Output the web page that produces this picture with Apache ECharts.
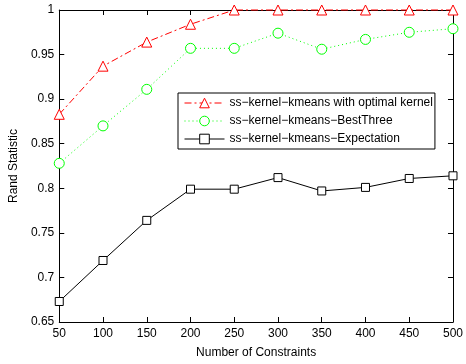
<!DOCTYPE html>
<html><head><meta charset="utf-8">
<script src="https://cdn.jsdelivr.net/npm/echarts@6/dist/echarts.min.js"></script>
<style>html,body{margin:0;padding:0;background:#fff}#c{width:466px;height:364px}</style>
</head><body><div id="c"></div>
<script>
const categories = [50,100,150,200,250,300,350,400,450,500];
const optimalKernel = [0.883,0.937,0.964,0.984,1,1,1,1,1,1];
const bestThree = [0.828,0.870,0.911,0.957,0.957,0.974,0.956,0.967,0.975,0.979];
const expectation = [0.673,0.719,0.764,0.799,0.799,0.812,0.797,0.801,0.811,0.814];
const yTicks = [0.65,0.7,0.75,0.8,0.85,0.9,0.95,1];
const seriesNames = ['ss\u2212kernel\u2212kmeans with optimal kernel','ss\u2212kernel\u2212kmeans\u2212BestThree','ss\u2212kernel\u2212kmeans\u2212Expectation'];

const font = 'Liberation Sans, Arial, sans-serif';
const chart = echarts.init(document.getElementById('c'));
const pair = (arr) => categories.map((x,i)=>[x,arr[i]]);
const axisCommon = {
  axisLine:{show:true,onZero:false,lineStyle:{color:'#000',width:1}},
  axisTick:{show:true,inside:true,length:5,lineStyle:{color:'#000'}},
  splitLine:{show:false}
};
chart.setOption({
  animation:false,
  backgroundColor:'#fff',
  grid:{left:57,right:10,top:10,bottom:40,containLabel:false},
  xAxis:[
    Object.assign({type:'value',min:50,max:500,interval:50,position:'bottom',
      name:'Number of Constraints',nameLocation:'middle',nameGap:25,
      nameTextStyle:{color:'#000',fontFamily:font,fontSize:12},
      axisLabel:{color:'#000',fontFamily:font,fontSize:12,margin:6,formatter:v=>String(v)}},axisCommon),
    Object.assign({type:'value',min:50,max:500,interval:50,position:'top',axisLabel:{show:false}},axisCommon)
  ],
  yAxis:[
    Object.assign({type:'value',min:0.65,max:1,interval:0.05,position:'left',
      name:'Rand Statistic',nameLocation:'middle',nameGap:38,
      nameTextStyle:{color:'#000',fontFamily:font,fontSize:12},
      axisLabel:{color:'#000',fontFamily:font,fontSize:12,margin:5,
        formatter:v=>{const t=yTicks.find(t=>Math.abs(t-v)<1e-6);return t===undefined?'':String(t);}}},axisCommon),
    Object.assign({type:'value',min:0.65,max:1,interval:0.05,position:'right',axisLabel:{show:false}},axisCommon)
  ],
  legend:{
    left:178,top:93,width:258,orient:'vertical',
    backgroundColor:'#fff',borderColor:'#000',borderWidth:1,
    padding:[4,2,4,6],itemGap:6,itemWidth:40,itemHeight:12,
    lineStyle:{width:1},
    itemStyle:{borderWidth:1},
    textStyle:{color:'#000',fontFamily:font,fontSize:12},
    data:seriesNames
  },
  series:[
    {name:seriesNames[0],type:'line',data:pair(optimalKernel),clip:false,
      symbol:'triangle',symbolSize:10,showAllSymbol:true,
      itemStyle:{color:'#fff',borderColor:'#ff0000',borderWidth:1},
      lineStyle:{color:'#ff0000',width:1,type:[7,3,2,3]},z:5},
    {name:seriesNames[1],type:'line',data:pair(bestThree),clip:false,
      symbol:'circle',symbolSize:10,
      itemStyle:{color:'#fff',borderColor:'#00ff00',borderWidth:1},
      lineStyle:{color:'#00ff00',width:1,type:[1,3]},z:4},
    {name:seriesNames[2],type:'line',data:pair(expectation),clip:false,
      symbol:'rect',symbolSize:8,
      itemStyle:{color:'#fff',borderColor:'#000',borderWidth:1},
      lineStyle:{color:'#000',width:1,type:'solid'},z:3}
  ]
});
</script></body></html>
